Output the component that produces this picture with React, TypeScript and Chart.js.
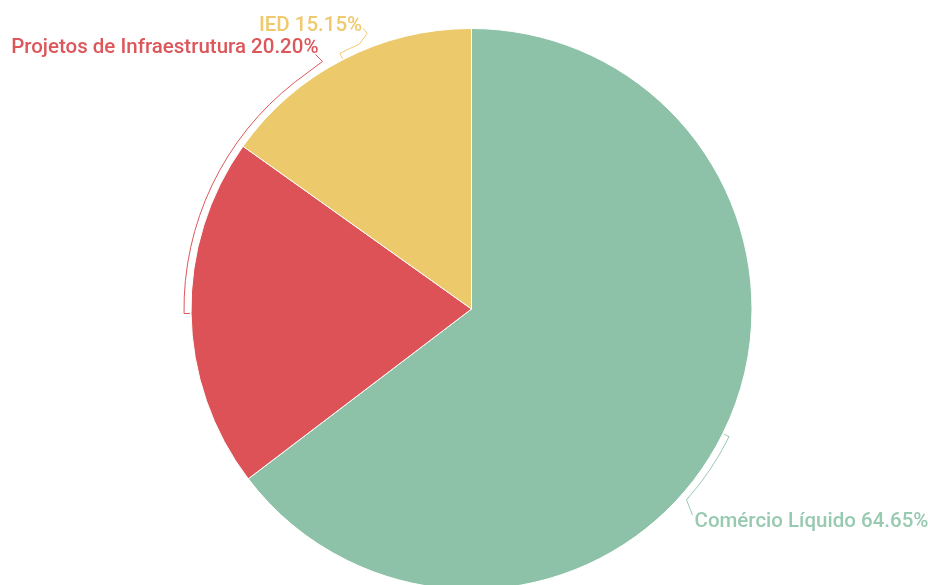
import React, { useEffect, useRef } from "react";
import { Chart, registerables } from "chart.js";

Chart.register(...registerables);

const categories = ["Comércio Líquido", "Projetos de Infraestrutura", "IED"];
const shares = [64.65, 20.2, 15.15];
const sliceColors = ["#8ec2a8", "#dc5257", "#ecc96b"];
const textColors = ["#98c9b1", "#dc575b", "#efc96c"];

// label layout: bracket arc end angle (deg clockwise from top), leader points and text anchor relative to arc end
const labelLayout = [
  { endDeg: 131.6, pts: [[6, 15]], text: [8, 27], align: "left" },
  { endDeg: 322, pts: [[28, -21], [21, -28]], text: [24, -29], align: "right" },
  { endDeg: 337, pts: [[8, -11], [4, -16]], text: [3, -13], align: "right" },
];

const bracketPlugin = {
  id: "bracketLabels",
  afterDatasetsDraw(chart: any) {
    const ctx = chart.ctx;
    const meta = chart.getDatasetMeta(0);
    ctx.save();
    ctx.font = "500 20.5px Roboto";
    meta.data.forEach((arc: any, i: number) => {
      const { x, y, outerRadius, startAngle, endAngle } = arc.getProps(
        ["x", "y", "outerRadius", "startAngle", "endAngle"],
        true
      );
      const lay = labelLayout[i];
      const mid = (startAngle + endAngle) / 2;
      const rb = outerRadius + 7;
      const endA = ((lay.endDeg - 90) * Math.PI) / 180;
      const ex = x + rb * Math.cos(endA);
      const ey = y + rb * Math.sin(endA);
      ctx.strokeStyle = textColors[i];
      ctx.lineWidth = 1;
      ctx.beginPath();
      ctx.moveTo(x + (outerRadius + 1) * Math.cos(mid), y + (outerRadius + 1) * Math.sin(mid));
      ctx.lineTo(x + rb * Math.cos(mid), y + rb * Math.sin(mid));
      ctx.arc(x, y, rb, mid, endA, endA < mid);
      lay.pts.forEach((p) => ctx.lineTo(ex + p[0], ey + p[1]));
      ctx.stroke();
      ctx.fillStyle = textColors[i];
      ctx.textAlign = lay.align;
      ctx.textBaseline = "alphabetic";
      ctx.fillText(
        `${categories[i]} ${shares[i].toFixed(2)}%`,
        ex + lay.text[0],
        ey + lay.text[1]
      );
    });
    ctx.restore();
  },
};

export default function App() {
  const ref = useRef<HTMLCanvasElement>(null);
  useEffect(() => {
    document.body.style.margin = "0";
    const chart = new Chart(ref.current!, {
      type: "pie",
      data: {
        labels: categories,
        datasets: [
          {
            data: shares,
            backgroundColor: sliceColors,
            borderColor: "#ffffff",
            borderWidth: 1,
          },
        ],
      },
      options: {
        animation: false,
        responsive: false,
        devicePixelRatio: 1,
        layout: { padding: { left: 190, right: 175, top: 28, bottom: 50 } },
        plugins: {
          legend: { display: false },
          tooltip: { enabled: false },
        },
      },
      plugins: [bracketPlugin],
    });
    return () => chart.destroy();
  }, []);
  return (
    <div style={{ position: "fixed", left: 0, top: 0, width: 928, height: 585, overflow: "hidden", background: "#fff" }}>
      <canvas ref={ref} width={928} height={640} style={{ width: 928, height: 640 }} />
    </div>
  );
}
